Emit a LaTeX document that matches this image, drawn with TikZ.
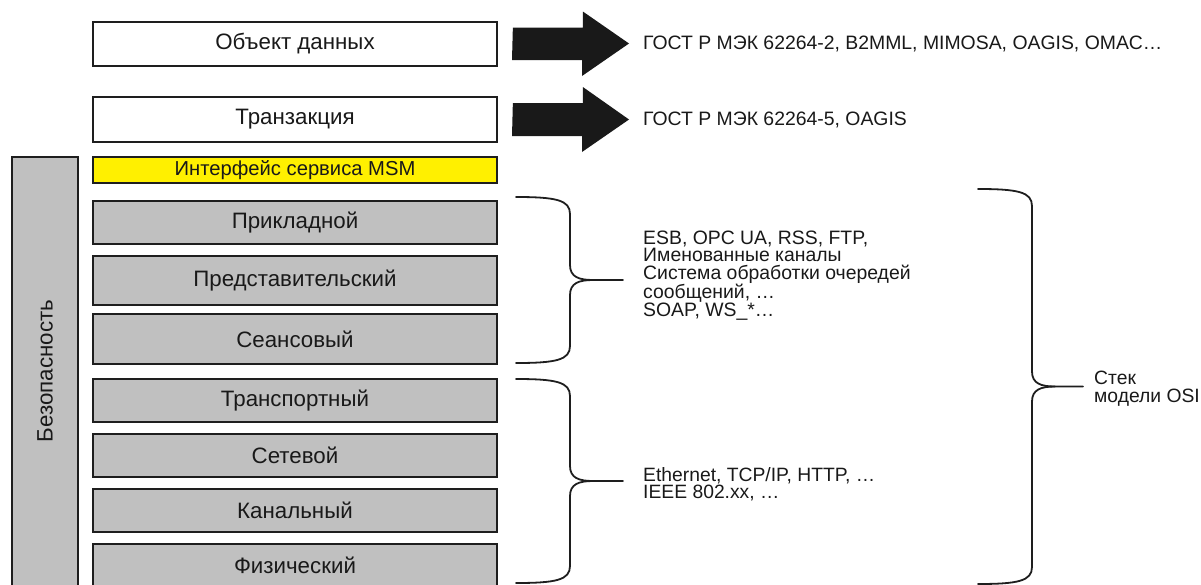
\documentclass[tikz,border=0pt]{standalone}
\usepackage{fontspec}
\setmainfont{Liberation Sans}
\definecolor{boxgray}{RGB}{192,192,192}
\definecolor{msmyellow}{RGB}{255,240,0}
\definecolor{inkline}{RGB}{30,30,30}
\definecolor{inktext}{RGB}{25,25,25}
\newcommand{\curlybrace}[6]{%
  % #1 x of ends, #2 y top, #3 y bottom, #4 x spine, #5 x tip, #6 x end of stem
  \pgfmathsetmacro{\bym}{(#2+#3)/2}%
  \draw[bracestyle] (#1,#2) .. controls ({#4-14},#2) and (#4,{#2+3}) .. (#4,{#2+17})
     -- (#4,{\bym-15}) .. controls (#4,{\bym-3}) and ({#4+9},\bym) .. (#5,\bym) -- (#6,\bym);
  \draw[bracestyle] (#5,\bym) .. controls ({#4+9},\bym) and (#4,{\bym+3}) .. (#4,{\bym+15})
     -- (#4,{#3-17}) .. controls (#4,{#3-3}) and ({#4-14},#3) .. (#1,#3);
}
\begin{document}
\begin{tikzpicture}[x=1pt,y=-1pt,
  layerbox/.style={draw=inkline, line width=1.7pt, fill=boxgray, minimum width=404pt,
     inner sep=0pt, text=inktext, font=\fontsize{22.3}{26}\selectfont},
  whitebox/.style={layerbox, fill=white},
  msmbox/.style={layerbox, fill=msmyellow, font=\fontsize{20.2}{23}\selectfont},
  sidetext/.style={anchor=west, inner sep=0pt, text=inktext, align=left,
     font=\fontsize{19.4}{17.2}\selectfont},
  blockarrow/.style={fill=black!90, draw=none},
  bracestyle/.style={draw=inkline, line width=1.8pt, line cap=round}
]
\useasboundingbox (0,0) rectangle (1201,584);

% security bar
\node[layerbox, minimum width=66pt, minimum height=446pt] (sec) at (45,380) {};
\node[rotate=90, text=inktext, inner sep=0pt, font=\fontsize{22.3}{26}\selectfont] (secl) at (45,371) {Безопасность};

% stack boxes
\node[whitebox, minimum height=44pt] (obj) at (295,44) {Объект данных};
\node[whitebox, minimum height=45pt] (trans) at (295,119.5) {Транзакция};
\node[msmbox, minimum height=26pt] (msm) at (295,170) {Интерфейс сервиса MSM};
\node[layerbox, minimum height=43pt] (app) at (295,222.5) {Прикладной};
\node[layerbox, minimum height=49pt] (pres) at (295,280.5) {Представительский};
\node[layerbox, minimum height=50pt] (sess) at (295,339) {Сеансовый};
\node[layerbox, minimum height=43pt] (tport) at (295,400.5) {Транспортный};
\node[layerbox, minimum height=43pt] (netw) at (295,455.5) {Сетевой};
\node[layerbox, minimum height=43pt] (link) at (295,510.5) {Канальный};
\node[layerbox, minimum height=43pt] (phys) at (295,565.5) {Физический};

% right-hand texts
\node[sidetext] (gost1) at (643,43.5) {ГОСТ Р МЭК 62264-2, B2MML, MIMOSA, OAGIS, OMAC…};
\node[sidetext] (gost2) at (643,119.5) {ГОСТ Р МЭК 62264-5, OAGIS};
\node[sidetext] (upper) at (643,276)
  {ESB, OPC UA, RSS, FTP,\\Именованные каналы\\Система обработки очередей\\сообщений, …\\SOAP, WS\_*…};
\node[sidetext, font=\fontsize{19.3}{17.5}\selectfont] (lower) at (643,484)
  {Ethernet, TCP/IP, HTTP, …\\IEEE 802.xx, …};
\node[sidetext, font=\fontsize{19.3}{17.5}\selectfont] (osi) at (1094,388.5)
  {Стек\\модели OSI};

% block arrows
\fill[blockarrow] ([xshift=15pt]obj.east) ++(0,-16.5) -- ++(70,0) -- ++(0,-16) -- ([xshift=-14pt]gost1.west)
   -- ++(-47,32.5) -- ++(0,-16) -- ++(-70,0) -- cycle;
\fill[blockarrow] ([xshift=15pt]trans.east) ++(0,-16.5) -- ++(70,0) -- ++(0,-16) -- ([xshift=-14pt]gost2.west)
   -- ++(-47,32.5) -- ++(0,-16) -- ++(-70,0) -- cycle;

% braces
\curlybrace{516}{197}{363}{570}{593}{623}
\curlybrace{516}{379}{583}{570}{593}{623}
\curlybrace{978}{189}{584}{1032}{1055}{1083}
\end{tikzpicture}
\end{document}
